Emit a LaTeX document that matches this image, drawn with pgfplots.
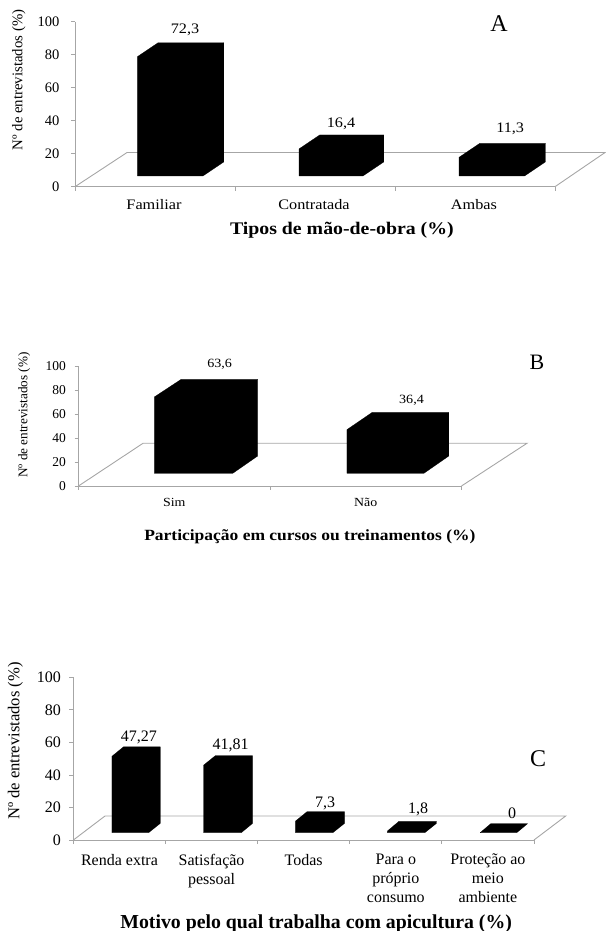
\documentclass[border=0pt]{standalone}
\usepackage{fontspec}
\setmainfont{Liberation Serif}
\newfontfamily\wide[FakeStretch=1.12]{Liberation Serif}
\usepackage{pgfplots}
\pgfplotsset{compat=1.18}
\definecolor{axisgray}{HTML}{A6A6A6}

\pgfplotsset{
  panel/.style={
    scale only axis,
    clip=false,
    ymin=0, ymax=100,
    ytick={0,20,40,60,80,100},
    axis x line=bottom,
    axis y line=left,
    axis line style={draw=axisgray,line width=0.9pt,-},
    tick style={draw=axisgray,line width=0.8pt},
    tick align=outside,
    major tick length=4pt,
    x tick label as interval,
    /pgf/number format/assume math mode=true,
    every axis y label/.style={rotate=90,anchor=center,at={(rel axis cs:#1)}},
    xticklabel style={align=center},
  },
  floor/.style={draw=axisgray,line width=0.9pt,no marks},
  box/.style={fill=black,draw=black,line width=0.2pt,no marks},
  vals/.style={draw=none,no marks,nodes near coords,point meta=explicit symbolic,
    every node near coord/.append style={anchor=center,inner sep=0pt,text=black,yshift=-1.5pt}},
}

\begin{document}
\begin{tikzpicture}
\path[use as bounding box] (0,0) rectangle (605pt,931pt);

% A
\begin{axis}[panel={-0.117,0.647},
  at={(75pt,744.3pt)}, anchor=south west, width=480pt, height=165pt,
  xmin=0, xmax=3, xtick={0,1,2,3},
  xticklabels={Familiar,Contratada,Ambas},
  ylabel={Nº de entrevistados (\%)}, ylabel style={font=\fontsize{14.8}{16}\selectfont},
  xlabel={\bfseries Tipos de mão-de-obra (\%)},
  xlabel style={font=\wide\fontsize{17.7}{20}\selectfont,at={(rel axis cs:0.556,-0.262)},anchor=center},
  xticklabel style={font=\wide\fontsize{14.5}{17}\selectfont,yshift=-5pt,xshift=-1pt},
  yticklabel style={font=\fontsize{14.5}{17}\selectfont,xshift=-8pt},
]
\addplot[floor] coordinates {(0,0) (0.325,20.7) (3.3125,20.7) (3,0)};
\addplot[box] coordinates {(0.39,6.5) (0.80,6.5) (0.93,15) (0.93,87.3) (0.52,87.3) (0.39,78.8) (0.39,6.5)};
\addplot[box] coordinates {(1.40,6.5) (1.80,6.5) (1.93,15) (1.93,31.4) (1.53,31.4) (1.40,22.9) (1.40,6.5)};
\addplot[box] coordinates {(2.40,6.5) (2.81,6.5) (2.94,15) (2.94,26.3) (2.53,26.3) (2.40,17.8) (2.40,6.5)};
\addplot[vals,every node near coord/.append style={font=\wide\fontsize{14.5}{17}\selectfont}] table[meta=lab] {
x y lab
0.6875 96.2 72,3
1.6625 39.2 16,4
2.72 36.2 11,3
};
\end{axis}

% B
\begin{axis}[panel={-0.142,0.59},
  at={(78.5pt,445pt)}, anchor=south west, width=383pt, height=120pt,
  xmin=0, xmax=2, xtick={0,1,2},
  xticklabels={Sim,Não},
  ylabel={Nº de entrevistados (\%)}, ylabel style={font=\fontsize{13.2}{15}\selectfont},
  xlabel={\bfseries Participação em cursos ou treinamentos (\%)},
  xlabel style={font=\wide\fontsize{15.6}{18}\selectfont,at={(rel axis cs:0.604,-0.425)},anchor=center},
  xticklabel style={font=\wide\fontsize{12.4}{15}\selectfont,yshift=-5pt},
  yticklabel style={font=\fontsize{13.5}{15}\selectfont,xshift=-5pt},
]
\addplot[floor] coordinates {(0,0) (0.337,35.6) (2.342,35.6) (2,0)};
\addplot[box] coordinates {(0.396,10.6) (0.806,10.6) (0.936,25) (0.936,88.9) (0.536,88.9) (0.396,74.2) (0.396,10.6)};
\addplot[box] coordinates {(1.402,10.6) (1.804,10.6) (1.934,25) (1.934,61.4) (1.534,61.4) (1.402,47.0) (1.402,10.6)};
\addplot[vals,every node near coord/.append style={font=\wide\fontsize{12.6}{15}\selectfont}] table[meta=lab] {
x y lab
0.737 102.5 63,6
1.739 72.5 36,4
};
\end{axis}

% C
\begin{axis}[panel={-0.126,0.608},
  at={(73.4pt,91pt)}, anchor=south west, width=460.6pt, height=162.7pt,
  xmin=0, xmax=5, xtick={0,1,2,3,4,5},
  xticklabels={Renda extra,Satisfação\\pessoal,Todas,Para o\\próprio\\consumo,Proteção ao\\meio\\ambiente},
  ylabel={Nº de entrevistados (\%)}, ylabel style={font=\fontsize{16.6}{18}\selectfont},
  xlabel={\bfseries Motivo pelo qual trabalha com apicultura (\%)},
  xlabel style={font=\fontsize{19.8}{22}\selectfont,at={(rel axis cs:0.527,-0.514)},anchor=center},
  xticklabel style={font=\fontsize{16}{19}\selectfont,yshift=-6.5pt},
  yticklabel style={font=\fontsize{16}{18}\selectfont,xshift=-5pt},
]
\addplot[floor] coordinates {(0,0) (0.343,14.75) (5.344,14.75) (5,0)};
\addplot[box] coordinates {(0.419,4.5) (0.817,4.5) (0.943,10.2) (0.943,57.3) (0.545,57.3) (0.419,51.5) (0.419,4.5)};
\addplot[box] coordinates {(1.413,4.5) (1.823,4.5) (1.945,10.2) (1.945,51.8) (1.54,51.8) (1.413,46.0) (1.413,4.5)};
\addplot[box] coordinates {(2.41,4.5) (2.817,4.5) (2.943,10.2) (2.943,17.4) (2.536,17.4) (2.41,11.6) (2.41,4.5)};
\addplot[box] coordinates {(3.408,4.5) (3.815,4.5) (3.941,10.2) (3.941,11.5) (3.534,11.5) (3.408,5.5) (3.408,4.5)};
\addplot[box] coordinates {(4.415,4.5) (4.813,4.5) (4.93,10) (4.53,10) (4.415,4.5)};
\addplot[vals,every node near coord/.append style={font=\fontsize{16}{18}\selectfont}] table[meta=lab] {
x y lab
0.712 63.9 47,27
1.706 59 41,81
2.732 23.4 7,3
3.741 19.7 1,8
4.762 17.2 0
};
\end{axis}

\node[font=\fontsize{24}{26}\selectfont] at (499pt,907pt) {A};
\node[font=\fontsize{22}{24}\selectfont] at (537pt,569pt) {B};
\node[font=\fontsize{24}{26}\selectfont] at (538pt,172pt) {C};
\end{tikzpicture}
\end{document}
